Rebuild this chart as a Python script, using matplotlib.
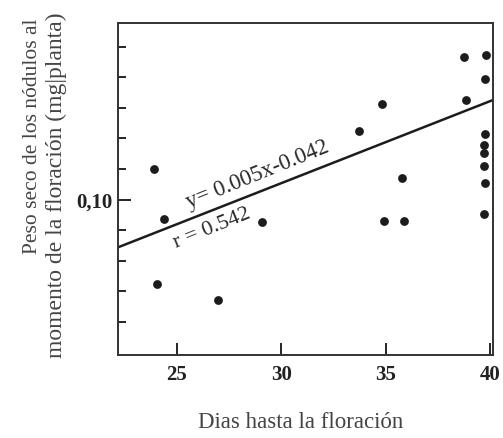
import matplotlib
matplotlib.use("Agg")
import matplotlib.pyplot as plt
from matplotlib.ticker import FixedLocator, NullFormatter
import numpy as np

plt.rcParams['font.family'] = ['Liberation Serif', 'DejaVu Serif']

# data
dias = [23.91, 24.39, 24.04, 26.95, 29.07, 33.72, 34.81, 34.89, 35.77, 35.85,
        38.75, 38.82, 39.78, 39.73, 39.76, 39.71, 39.71, 39.71, 39.73, 39.70]
peso = [0.1198, 0.0871, 0.0446, 0.0344, 0.0856, 0.1449, 0.1627, 0.0860, 0.1143, 0.0862,
        0.1931, 0.1651, 0.1944, 0.1792, 0.1431, 0.1354, 0.1302, 0.1218, 0.1107, 0.0907]

# regression line as drawn in the figure
slope = 0.00537
intercept = -0.0503
eq_text = "y= 0.005x-0.042"
r_text = "r = 0.542"

x_ticks = [25, 30, 35, 40]
y_major = [0.10]
y_minor = [0.02, 0.04, 0.06, 0.08, 0.12, 0.14, 0.16, 0.18, 0.20]

xlim = (22.18, 40.12)
ylim = (-0.0016, 0.2157)

ink = '#1c1c1c'

fig = plt.figure(figsize=(5.03, 4.38), dpi=100)
ax = fig.add_axes([0.2346, 0.1895, 0.9801 - 0.2346, 0.9482 - 0.1895])

ax.scatter(dias, peso, s=40, color=ink, zorder=3, linewidths=0)

lx = np.array(xlim)
ax.plot(lx, slope * lx + intercept, color=ink, lw=1.8, zorder=2)

ax.text(28.84, 0.1165, eq_text, rotation=22, ha='center', va='center',
        fontsize=16.5, color='#2a2a2a')
ax.text(26.68, 0.0812, r_text, rotation=22, ha='center', va='center',
        fontsize=16, color='#2a2a2a')

ax.set_xlim(*xlim)
ax.set_ylim(*ylim)

ax.set_xticks(x_ticks)
ax.set_xticklabels([str(t) for t in x_ticks], fontweight='bold', fontsize=15, color='#222')
ax.yaxis.set_major_locator(FixedLocator(y_major))
ax.set_yticklabels(['0,10'], fontweight='bold', fontsize=15, color='#222')
ax.yaxis.set_minor_locator(FixedLocator(y_minor))
ax.yaxis.set_minor_formatter(NullFormatter())

ax.tick_params(axis='x', direction='in', length=8.4, width=1.2, pad=7, top=False)
ax.tick_params(axis='y', which='major', direction='in', length=9.4, width=1.2, pad=4, right=False)
ax.tick_params(axis='y', which='minor', direction='in', length=5.8, width=1.2, right=False)

for sp in ax.spines.values():
    sp.set_linewidth(1.4)
    sp.set_color('#333')

fig.text(301 / 503, 1 - 422 / 438, "Dias hasta la floración", ha='center', va='center',
         fontsize=16.5, color='#444')
fig.text(33 / 503, 1 - 18 / 438, "Peso seco de los nódulos al", rotation=90,
         ha='center', va='top', fontsize=15.5, color='#444')
fig.text(56 / 503, 1 - 13 / 438, "momento de la floración (mg|planta)", rotation=90,
         ha='center', va='top', fontsize=17, color='#444')

fig.savefig("out.png", dpi=100)
